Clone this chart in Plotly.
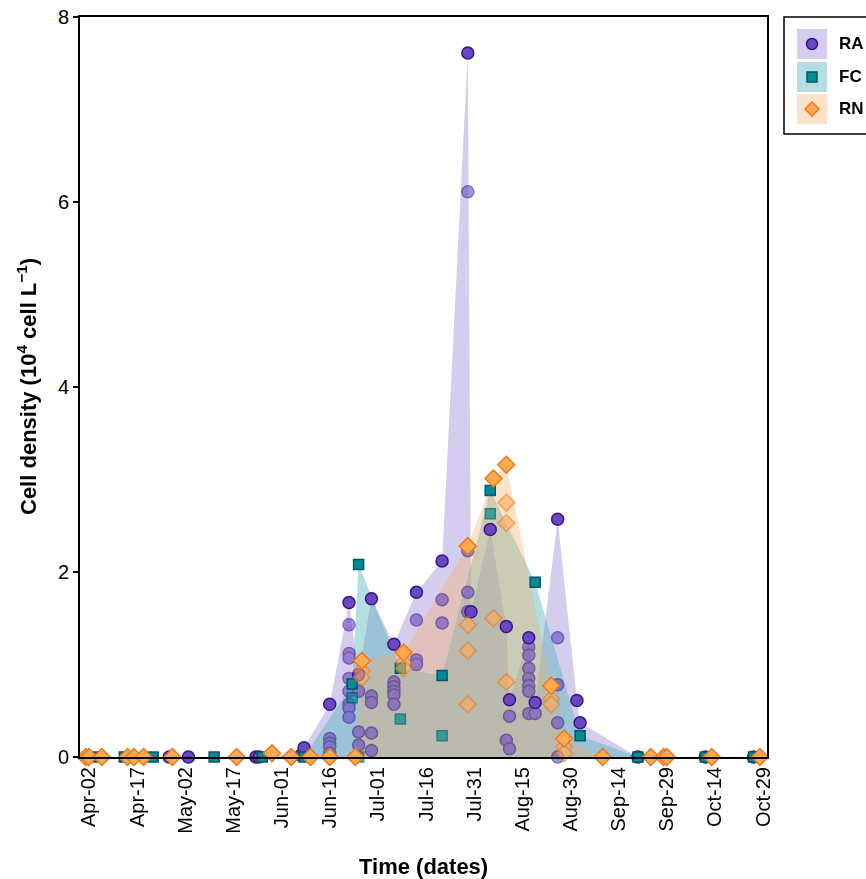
import plotly.graph_objects as go

# ---------------- data ----------------
tick_dates = ["2021-04-02", "2021-04-17", "2021-05-02", "2021-05-17", "2021-06-01",
              "2021-06-16", "2021-07-01", "2021-07-16", "2021-07-31", "2021-08-15",
              "2021-08-30", "2021-09-14", "2021-09-29", "2021-10-14", "2021-10-29"]
tick_labels = ["Apr-02", "Apr-17", "May-02", "May-17", "Jun-01", "Jun-16", "Jul-01",
               "Jul-16", "Jul-31", "Aug-15", "Aug-30", "Sep-14", "Sep-29", "Oct-14", "Oct-29"]
y_ticks = [0, 2, 4, 6, 8]

ra_dates = ["2021-04-27", "2021-05-03", "2021-05-24", "2021-05-25", "2021-06-07",
            "2021-06-08", "2021-06-16", "2021-06-22", "2021-06-25", "2021-06-29",
            "2021-07-06", "2021-07-13", "2021-07-21", "2021-07-29", "2021-07-30",
            "2021-08-05", "2021-08-10", "2021-08-11", "2021-08-17", "2021-08-19",
            "2021-08-26", "2021-09-01", "2021-09-02", "2021-09-20", "2021-10-11",
            "2021-10-26"]
ra_values = [[0], [0], [0], [0], [0.02],
             [0.10], [0.57, 0.20, 0.15, 0.11, 0.04],
             [1.67, 1.43, 1.12, 1.07, 0.85, 0.71, 0.57, 0.53, 0.43],
             [0.89, 0.71, 0.27, 0.13], [1.71, 0.66, 0.59, 0.26, 0.07],
             [1.22, 0.81, 0.76, 0.71, 0.67, 0.57], [1.78, 1.48, 1.05, 1.00],
             [2.12, 1.70, 1.45], [7.61, 6.11, 2.23, 1.78, 1.57], [1.57],
             [2.46], [1.41, 0.18], [0.62, 0.44, 0.09],
             [1.29, 1.19, 1.10, 0.96, 0.85, 0.77, 0.71, 0.47], [0.59, 0.47],
             [2.57, 1.29, 0.78, 0.37, 0.0], [0.61], [0.37], [0], [0], [0]]

fc_dates = ["2021-04-05", "2021-04-13", "2021-04-22", "2021-05-11", "2021-05-26",
            "2021-06-08", "2021-06-23", "2021-06-25", "2021-07-08", "2021-07-21",
            "2021-08-05", "2021-08-19", "2021-09-02", "2021-09-20", "2021-10-11",
            "2021-10-26"]
fc_values = [[0], [0], [0], [0], [0], [0], [0.79, 0.64], [2.08, 0.0], [0.96, 0.41],
             [0.88, 0.23], [2.88, 2.63], [1.89], [0.23], [0], [0], [0]]

rn_dates = ["2021-04-01", "2021-04-02", "2021-04-06", "2021-04-14", "2021-04-16",
            "2021-04-19", "2021-04-28", "2021-05-18", "2021-05-29", "2021-06-04",
            "2021-06-10", "2021-06-16", "2021-06-24", "2021-06-26", "2021-07-09",
            "2021-07-29", "2021-08-06", "2021-08-10", "2021-08-24", "2021-08-28",
            "2021-09-09", "2021-09-24", "2021-09-28", "2021-09-29", "2021-10-13",
            "2021-10-28"]
rn_values = [[0], [0], [0], [0], [0], [0], [0], [0], [0.04], [0], [0], [0], [0],
             [1.04, 0.93, 0.86], [1.13, 1.02, 0.96], [2.28, 1.43, 1.15, 0.57],
             [3.01, 1.50], [3.16, 2.75, 2.53, 0.81], [0.77, 0.63, 0.57],
             [0.20, 0.11, 0.04], [0], [0], [0], [0], [0], [0]]

series_names = ["RA", "FC", "RN"]

# ---------------- styles ----------------
FONT = "Liberation Sans, Arial, sans-serif"
styles = {
    "RA": dict(symbol="circle", size=12, color="rgb(104,72,196)", line="rgb(60,22,128)",
               fill="rgba(148,130,210,0.4)", light=0.6),
    "FC": dict(symbol="square", size=10, color="rgb(0,139,150)", line="rgb(0,88,100)",
               fill="rgba(88,182,191,0.45)", light=0.7),
    "RN": dict(symbol="diamond", size=13, color="rgb(255,170,80)", line="rgb(232,122,30)",
               fill="rgba(246,172,98,0.35)", light=0.6),
}


def split(dates, values):
    xd, yd, xl, yl = [], [], [], []
    for d, vals in zip(dates, values):
        m = max(vals)
        xd.append(d)
        yd.append(m)
        rest = list(vals)
        rest.remove(m)
        for v in rest:
            xl.append(d)
            yl.append(v)
    return xd, yd, xl, yl


data = {"RA": (ra_dates, ra_values), "FC": (fc_dates, fc_values), "RN": (rn_dates, rn_values)}
parts = {k: split(*v) for k, v in data.items()}

fig = go.Figure()
# fills first
for name in series_names:
    xd, yd, _, _ = parts[name]
    s = styles[name]
    fig.add_trace(go.Scatter(x=xd, y=yd, mode="none", fill="tozeroy", fillcolor=s["fill"],
                             hoverinfo="skip", showlegend=False))
# markers
for name in series_names:
    xd, yd, xl, yl = parts[name]
    s = styles[name]
    fig.add_trace(go.Scatter(x=xl, y=yl, mode="markers", name=name, showlegend=False,
                             cliponaxis=False, opacity=s["light"],
                             marker=dict(symbol=s["symbol"], size=s["size"], color=s["color"],
                                         line=dict(color=s["line"], width=1.5))))
    fig.add_trace(go.Scatter(x=xd, y=yd, mode="markers", name=name, showlegend=False,
                             cliponaxis=False,
                             marker=dict(symbol=s["symbol"], size=s["size"], color=s["color"],
                                         line=dict(color=s["line"], width=1.5))))

# ---------------- layout ----------------
W, H = 866, 879
L, R, T, B = 80, 767, 17, 757
pw, ph = R - L, B - T


def px(x):
    return (x - L) / pw


def py(y):
    return (B - y) / ph


shapes = []
annotations = []
# legend box
shapes.append(dict(type="rect", xref="paper", yref="paper", x0=px(784), x1=px(900),
                   y0=py(134), y1=py(17), line=dict(color="black", width=1.5),
                   fillcolor="white", layer="above"))
leg_rows = [44, 77, 109]
for name, cy in zip(series_names, leg_rows):
    s = styles[name]
    shapes.append(dict(type="rect", xref="paper", yref="paper", x0=px(797), x1=px(827),
                       y0=py(cy + 15), y1=py(cy - 15), line=dict(width=0),
                       fillcolor=s["fill"]))
    cx = 812
    if s["symbol"] == "circle":
        r = 5.5
        shapes.append(dict(type="circle", xref="paper", yref="paper", x0=px(cx - r), x1=px(cx + r),
                           y0=py(cy + r), y1=py(cy - r), fillcolor=s["color"],
                           line=dict(color=s["line"], width=1.5)))
    elif s["symbol"] == "square":
        r = 5
        shapes.append(dict(type="rect", xref="paper", yref="paper", x0=px(cx - r), x1=px(cx + r),
                           y0=py(cy + r), y1=py(cy - r), fillcolor=s["color"],
                           line=dict(color=s["line"], width=1.5)))
    else:
        r = 7
        path = "M {} {} L {} {} L {} {} L {} {} Z".format(
            px(cx), py(cy - r), px(cx + r), py(cy), px(cx), py(cy + r), px(cx - r), py(cy))
        shapes.append(dict(type="path", xref="paper", yref="paper", path=path,
                           fillcolor=s["color"], line=dict(color=s["line"], width=1.5)))
    annotations.append(dict(xref="paper", yref="paper", x=px(837), y=py(cy), text="<b>%s</b>" % name,
                            showarrow=False, xanchor="left", yanchor="middle",
                            font=dict(family=FONT, size=17, color="black")))

# axis titles
annotations.append(dict(xref="paper", yref="paper", x=px(423.5), y=py(866),
                        text="<b>Time (dates)</b>", showarrow=False, xanchor="center",
                        yanchor="middle", font=dict(family=FONT, size=22, color="black")))
annotations.append(dict(xref="paper", yref="paper", x=px(27), y=py(387),
                        text="<b>Cell density (10<sup>4</sup> cell L<sup>\u22121</sup>)</b>",
                        showarrow=False, textangle=-90, xanchor="center", yanchor="middle",
                        font=dict(family=FONT, size=22, color="black")))

fig.update_layout(
    width=W, height=H,
    margin=dict(l=L, r=W - R, t=T, b=H - B, autoexpand=False),
    paper_bgcolor="white", plot_bgcolor="white",
    font=dict(family=FONT, color="black"),
    shapes=shapes, annotations=annotations,
    showlegend=False,
    xaxis=dict(type="date", range=["2021-03-30 05:00", "2021-10-30 05:00"],
               tickmode="array", tickvals=tick_dates, ticktext=tick_labels, tickangle=-90,
               tickfont=dict(family=FONT, size=20, color="black"),
               showgrid=False, zeroline=False, showline=True, linecolor="black",
               linewidth=2, mirror=True, ticks="", automargin=False),
    yaxis=dict(range=[0, 8], tickmode="array", tickvals=y_ticks,
               tickfont=dict(family=FONT, size=20, color="black"),
               showgrid=False, zeroline=False, showline=True, linecolor="black",
               linewidth=2, mirror=True, ticks="outside", ticklen=5, tickwidth=1.5,
               tickcolor="black", automargin=False),
)

fig.write_html("out.html", config={"displayModeBar": False},
               post_script="document.body.style.margin='0';document.body.style.overflow='hidden';")
